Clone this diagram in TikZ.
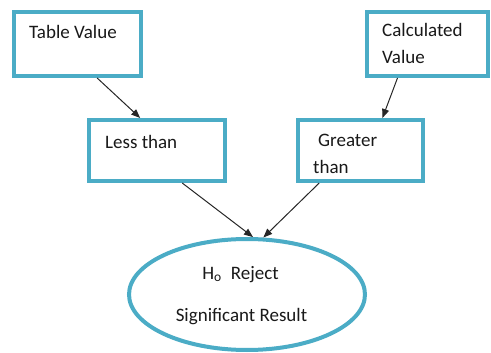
\documentclass[tikz,border=0pt]{standalone}
\usepackage{fontspec}
\setmainfont{Carlito}
\usetikzlibrary{arrows.meta,calc,shapes.geometric}
\definecolor{boxblue}{RGB}{75,172,198}
\tikzset{
  box/.style={draw=boxblue,line width=4pt,rectangle,inner sep=0pt,fill=white},
  oval/.style={draw=boxblue,line width=4pt,ellipse,inner sep=0pt,fill=white},
  lbl/.style={anchor=west,inner sep=0pt,font=\fontsize{19}{27}\selectfont,text=black!90},
  clbl/.style={anchor=center,inner sep=0pt,font=\fontsize{19}{27}\selectfont,text=black!90},
  arr/.style={draw=black!85,line width=1pt,-{Triangle[length=9pt,width=7pt]}}
}
\begin{document}
\begin{tikzpicture}[x=1pt,y=-1pt]
\useasboundingbox (0,0) rectangle (491,353);
% boxes
\node[box,minimum width=127pt,minimum height=64pt] (tv) at (77.5,44) {};
\node[box,minimum width=121pt,minimum height=64pt] (cv) at (427.5,44) {};
\node[box,minimum width=136pt,minimum height=61pt] (lt) at (157,150.5) {};
\node[box,minimum width=125pt,minimum height=61pt] (gt) at (360.5,150.5) {};
\node[oval,minimum width=236pt,minimum height=111pt] (el) at (247,294.5) {};
% labels
\node[lbl] (tvt) at (29,32) {Table Value};
\node[lbl] (cvt1) at (382,30) {Calculated};
\node[lbl] (cvt2) at (382,57) {Value};
\node[lbl] (ltt) at (105,142) {Less than};
\node[lbl] (gtt1) at (318,140) {Greater};
\node[lbl] (gtt2) at (313,167) {than};
\node[clbl] (elt1) at (240.5,275) {H\raisebox{-0.2ex}{\fontsize{13.5}{13.5}\selectfont o}\hspace{0.5em}Reject};
\node[clbl] (elt2) at (241.5,317) {Significant Result};
% arrows
\draw[arr] ($(tv.south west)!0.65!(tv.south east)$) -- ($(lt.north west)!0.38!(lt.north east)$);
\draw[arr] ($(cv.south west)!0.26!(cv.south east)$) -- ($(gt.north west)!0.67!(gt.north east)$);
\draw[arr] ($(lt.south west)!0.68!(lt.south east)$) -- (el.84);
\draw[arr] ($(gt.south west)!0.18!(gt.south east)$) -- (el.74);
\end{tikzpicture}
\end{document}
